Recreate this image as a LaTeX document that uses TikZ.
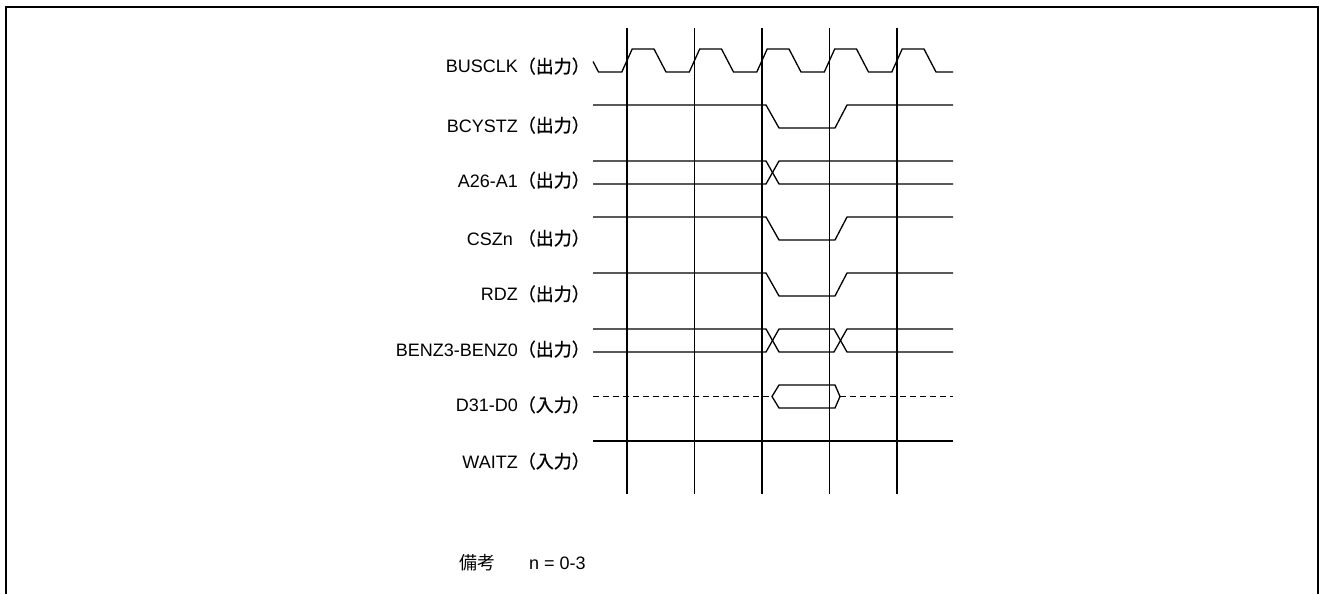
\documentclass[tikz,border=0pt]{standalone}
\usepackage{fontspec}
\setmainfont{Liberation Sans}
\newfontfamily\cjk{Noto Sans CJK JP}[FakeBold=0.8]
\newfontfamily\cjkplain{Noto Sans CJK JP}
\newcommand{\outp}{{\cjk （出力）}}
\newcommand{\inp}{{\cjk （入力）}}
\begin{document}
\begin{tikzpicture}[x=1pt,y=-1pt,
  sig/.style={line width=1.3pt, line join=miter},
  lbl/.style={anchor=base east, inner sep=0pt, font=\fontsize{18}{20}\selectfont},
  note/.style={anchor=base west, inner sep=0pt, font=\fontsize{18}{20}\selectfont}]
\useasboundingbox (0,0) rectangle (1322,594);
% frame
\draw[line width=2pt] (6,594) -- (6,7) -- (1318,7) -- (1318,594);
% clock grid lines
\foreach \x in {627,694.5,762,829.5,897} \draw[sig] (\x,28) -- (\x,494);
% BUSCLK
\draw[sig] (593,61.5) -- (598.5,72)
  \foreach \t in {627,694.5,762,829.5,897} { -- (\t-5.2,72) -- (\t+5.2,49) -- (\t+27,49) -- (\t+39,72) } -- (953,72);
% BCYSTZ, CSZn, RDZ
\foreach \h/\l in {105/128, 217/240, 273/296}
  \draw[sig] (593,\h) -- (766,\h) -- (779,\l) -- (835,\l) -- (847,\h) -- (953,\h);
% A26-A1
\draw[sig] (593,161) -- (766,161) -- (779,184) -- (953,184);
\draw[sig] (593,184) -- (766,184) -- (779,161) -- (953,161);
% BENZ3-BENZ0
\draw[sig] (593,329) -- (766,329) -- (779,352) -- (834,352) -- (847,329) -- (953,329);
\draw[sig] (593,352) -- (766,352) -- (779,329) -- (834,329) -- (847,352) -- (953,352);
% D31-D0
\draw[sig, dash pattern=on 6pt off 4pt] (593,396.5) -- (772,396.5);
\draw[sig] (772,396.5) -- (779,385) -- (835,385) -- (840,396.5) -- (835,408) -- (779,408) -- cycle;
\draw[sig, dash pattern=on 6pt off 4pt] (840,396.5) -- (953,396.5);
% WAITZ
\draw[sig] (593,441) -- (953,441);
% labels
\node[lbl] (l1) at (590,73) {BUSCLK\outp};
\node[lbl] (l2) at (590,132) {BCYSTZ\outp};
\node[lbl] (l3) at (590,187) {A26-A1\outp};
\node[lbl] (l4) at (590,245) {CSZn \outp};
\node[lbl] (l5) at (590,300.7) {RDZ\outp};
\node[lbl] (l6) at (590,356) {BENZ3-BENZ0\outp};
\node[lbl] (l7) at (590,411.7) {D31-D0\inp};
\node[lbl] (l8) at (590,468) {WAITZ\inp};
\node[note] (n1) at (459,569) {\cjkplain 備考};
\node[note] (n2) at (529,569) {n = 0-3};
\end{tikzpicture}
\end{document}
